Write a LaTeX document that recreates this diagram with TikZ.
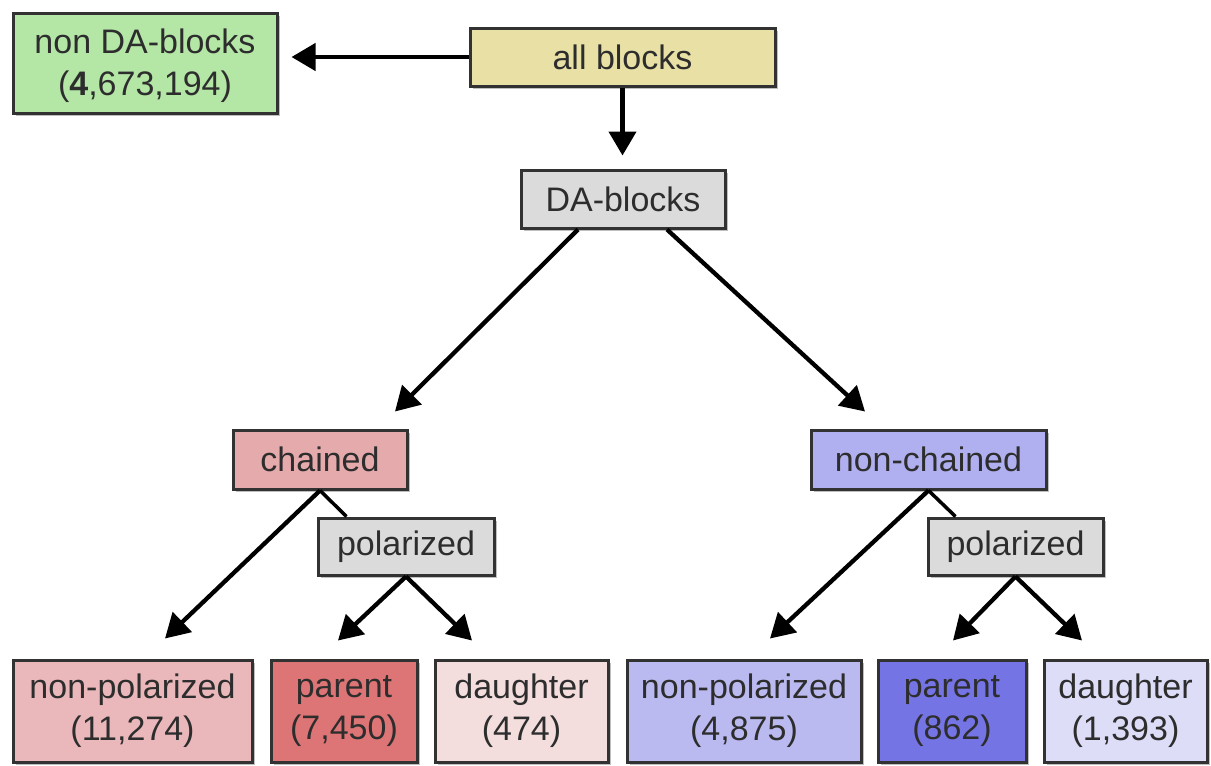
\documentclass[tikz,border=0pt]{standalone}
\usepackage{fontspec}
\setmainfont{Liberation Sans}
\usetikzlibrary{arrows.meta,shadows}
\definecolor{cgreen}{RGB}{180,230,166}
\definecolor{ctan}{RGB}{233,224,166}
\definecolor{cgray}{RGB}{219,219,219}
\definecolor{cchain}{RGB}{229,170,172}
\definecolor{cnpL}{RGB}{234,184,186}
\definecolor{cparL}{RGB}{221,116,117}
\definecolor{cdauL}{RGB}{243,221,221}
\definecolor{cnchain}{RGB}{176,176,240}
\definecolor{cnpR}{RGB}{186,186,240}
\definecolor{cparR}{RGB}{116,116,228}
\definecolor{cdauR}{RGB}{221,221,248}
\definecolor{cborder}{RGB}{50,50,50}
\definecolor{ctext}{RGB}{45,45,45}
\tikzset{
  box/.style={draw=cborder, line width=3pt, rectangle, inner sep=0pt, align=center,
    text=ctext, font=\fontsize{34}{42}\selectfont,
    drop shadow={shadow xshift=3pt, shadow yshift=-3pt, opacity=0.25, fill=black}},
  arr/.style={line width=4.3pt, draw=black, -{Triangle[length=24pt,width=27pt]}},
  link/.style={line width=3.5pt, draw=black}
}
\begin{document}
\begin{tikzpicture}[x=1pt,y=-1pt]
\useasboundingbox (0,0) rectangle (1211,766);
% top
\node[box, fill=cgreen, minimum width=264pt, minimum height=100pt] (nonDA) at (145,63) {\rule{0pt}{30pt}non DA-blocks\\(\textbf{4},673,194)};
\node[box, fill=ctan, minimum width=305pt, minimum height=58pt] (all) at (622.5,57) {all blocks};
\node[box, fill=cgray, minimum width=204pt, minimum height=58pt] (DA) at (623,199) {DA-blocks};
% middle
\node[box, fill=cchain, minimum width=174pt, minimum height=59pt] (chained) at (320,459.5) {chained};
\node[box, fill=cgray, minimum width=176pt, minimum height=57pt] (polL) at (406,546.5) {polarized};
\node[box, fill=cnchain, minimum width=235pt, minimum height=59pt] (nchained) at (928.5,459.5) {non-chained};
\node[box, fill=cgray, minimum width=175pt, minimum height=57pt] (polR) at (1015.5,546.5) {polarized};
% bottom
\node[box, fill=cnpL, minimum width=239pt, minimum height=102pt] (npL) at (132.5,711) {non-polarized\\(11,274)};
\node[box, fill=cparL, minimum width=146pt, minimum height=102pt] (parL) at (344,711) {parent\\(7,450)};
\node[box, fill=cdauL, minimum width=173pt, minimum height=102pt] (dauL) at (521.5,711) {daughter\\(474)};
\node[box, fill=cnpR, minimum width=234pt, minimum height=102pt] (npR) at (744,711) {non-polarized\\(4,875)};
\node[box, fill=cparR, minimum width=148pt, minimum height=102pt] (parR) at (952,711) {parent\\(862)};
\node[box, fill=cdauR, minimum width=163pt, minimum height=102pt] (dauR) at (1125.5,711) {daughter\\(1,393)};
% connector end points
\coordinate (pLtop) at ([xshift=30pt]polL.north west);
\coordinate (pRtop) at ([xshift=29pt]polR.north west);
% connectors
\draw[arr, shorten >=13pt] (all.west) -- (all.west -| nonDA.east);
\draw[arr, shorten >=13pt] (all.south) -- (all.south |- DA.north);
\draw[arr] ([xshift=-45pt]DA.south) -- ([xshift=75pt,yshift=17pt]chained.north);
\draw[arr] ([xshift=44pt]DA.south) -- ([xshift=-63.5pt,yshift=17pt]nchained.north);
\draw[arr] (chained.south) -- ([xshift=32.5pt,yshift=20pt]npL.north);
\draw[link] (chained.south) -- (pLtop);
\draw[arr] (polL.south) -- ([xshift=-6pt,yshift=18pt]parL.north);
\draw[arr] (polL.south) -- ([xshift=-49.5pt,yshift=18pt]dauL.north);
\draw[arr] (nchained.south) -- ([xshift=26pt,yshift=20pt]npR.north);
\draw[link] (nchained.south) -- (pRtop);
\draw[arr] (polR.south) -- ([xshift=1pt,yshift=18pt]parR.north);
\draw[arr] (polR.south) -- ([xshift=-43.5pt,yshift=18pt]dauR.north);
\end{tikzpicture}
\end{document}
